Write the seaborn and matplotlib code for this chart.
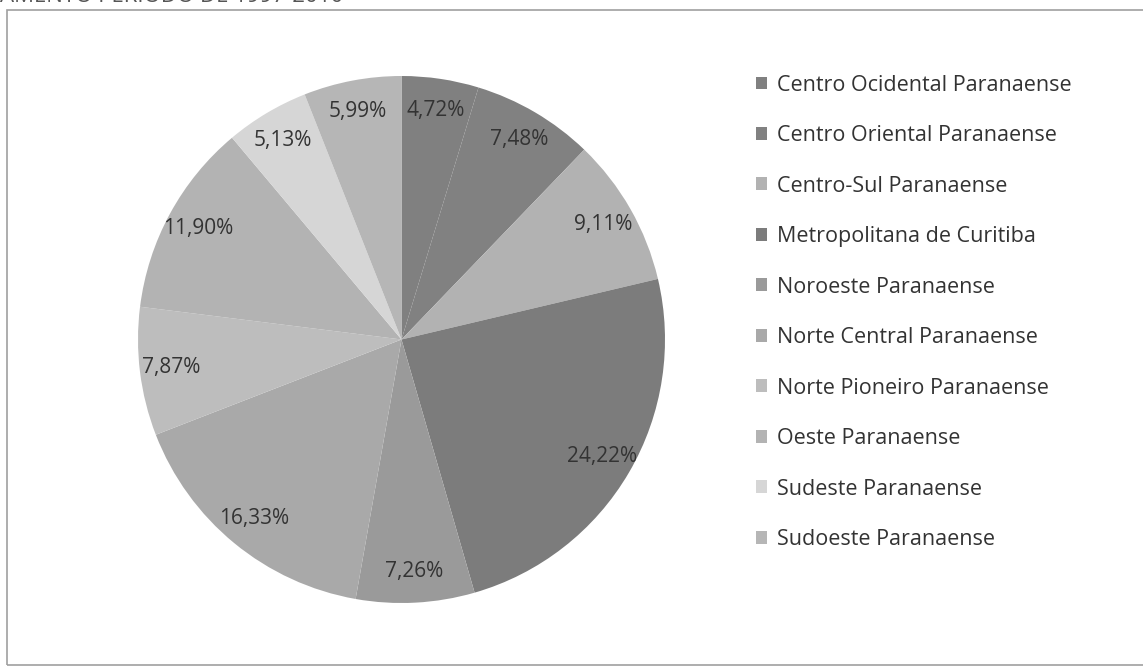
import matplotlib
matplotlib.use("Agg")
import matplotlib.pyplot as plt
from matplotlib.patches import Rectangle
import seaborn as sns

# ── Dados (leitura do gráfico) ───────────────────────────────────────────────
regioes = [
    "Centro Ocidental Paranaense",
    "Centro Oriental Paranaense",
    "Centro-Sul Paranaense",
    "Metropolitana de Curitiba",
    "Noroeste Paranaense",
    "Norte Central Paranaense",
    "Norte Pioneiro Paranaense",
    "Oeste Paranaense",
    "Sudeste Paranaense",
    "Sudoeste Paranaense",
]
participacao = [4.72, 7.48, 9.11, 24.22, 7.26, 16.33, 7.87, 11.90, 5.13, 5.99]
cinzas = ["#808080", "#818181", "#b2b2b2", "#7c7c7c", "#9a9a9a",
          "#a9a9a9", "#bdbdbd", "#b3b3b3", "#d6d6d6", "#b6b6b6"]

rotulos = [f"{v:.2f}%".replace(".", ",") for v in participacao]

sns.set_theme(style="white")
plt.rcParams["font.family"] = ["Open Sans", "DejaVu Sans"]

fig = plt.figure(figsize=(11.43, 6.67), dpi=100)
fig.patch.set_facecolor("white")

# moldura do gráfico (como no original escaneado)
fig.patches.append(Rectangle((7 / 1143, 2 / 667), 1.2, 655 / 667,
                             transform=fig.transFigure, fill=False,
                             edgecolor="#a0a0a0", lw=1.2))

# título cortado no topo, como no original
fig.text(0.0, 0.9975, "AMENTO PERÍODO DE 1997-2010", fontsize=16,
         color="#555555", va="baseline", ha="left")

ax = fig.add_axes([138 / 1143, 64 / 667, 527 / 1143, 527 / 667])
wedges, textos = ax.pie(
    participacao, labels=rotulos, colors=sns.color_palette(cinzas),
    startangle=90, counterclock=False, labeldistance=0.88,
    wedgeprops={"linewidth": 0, "antialiased": True},
    textprops={"fontsize": 15, "color": "#333333", "ha": "center", "va": "center"},
)
ax.set_xlim(-1, 1)
ax.set_ylim(-1, 1)
ax.set_aspect("equal")

fig.legend(wedges, regioes, loc="upper left",
           bbox_to_anchor=(747 / 1143, 1 - 66 / 667),
           frameon=False, fontsize=15.5, labelcolor="#333333",
           handlelength=0.55, handleheight=0.55, handletextpad=0.45,
           labelspacing=1.37, borderaxespad=0)

fig.savefig("out.png", dpi=100)
